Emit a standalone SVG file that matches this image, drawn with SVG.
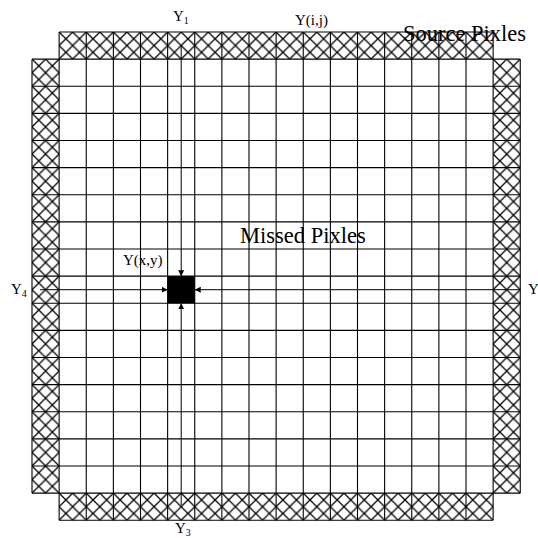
<svg xmlns="http://www.w3.org/2000/svg" width="538" height="538" viewBox="0 0 538 538">
<style>
.grid{fill:none;stroke:#000;stroke-width:1.1}
.hatch{fill:url(#xh);stroke:none}
.conn{fill:none;stroke:#000;stroke-width:1}
.lbl{font-family:"Liberation Serif","Times New Roman",serif;font-size:15px;fill:#000}
.big{font-family:"Liberation Serif","Times New Roman",serif;font-size:22.5px;fill:#000}
.sub{font-size:10px}
</style>
<defs>
<pattern id="xh" patternUnits="userSpaceOnUse" x="32" y="32" width="13.5625" height="13.5625">
<path d="M0 0L13.5625 13.5625M13.5625 0L0 13.5625" stroke="#000" stroke-width="1.3" fill="none"/>
</pattern>
<marker id="ah" markerUnits="userSpaceOnUse" markerWidth="8" markerHeight="8" refX="6" refY="3" orient="auto">
<path d="M0 0L6 3L0 6Z" fill="#000"/>
</marker>
</defs>
<rect width="538" height="538" fill="#fff"/>
<g id="source-pixels">
<rect class="hatch" x="59.125" y="32" width="434" height="27.125"/>
<rect class="hatch" x="59.125" y="493.125" width="434" height="27.125"/>
<rect class="hatch" x="32" y="59.125" width="27.125" height="434"/>
<rect class="hatch" x="493.125" y="59.125" width="27.125" height="434"/>
</g>
<g id="grid">
<path class="grid" d="M59.125 32V520.25M86.25 32V520.25M113.375 32V520.25M140.5 32V520.25M167.625 32V520.25M194.75 32V520.25M221.875 32V520.25M249 32V520.25M276.125 32V520.25M303.25 32V520.25M330.375 32V520.25M357.5 32V520.25M384.625 32V520.25M411.75 32V520.25M438.875 32V520.25M466 32V520.25M493.125 32V520.25"/>
<path class="grid" d="M32 59.125H520.25M32 86.25H520.25M32 113.375H520.25M32 140.5H520.25M32 167.625H520.25M32 194.75H520.25M32 221.875H520.25M32 249H520.25M32 276.125H520.25M32 303.25H520.25M32 330.375H520.25M32 357.5H520.25M32 384.625H520.25M32 411.75H520.25M32 438.875H520.25M32 466H520.25M32 493.125H520.25"/>
<path class="grid" d="M59.125 32H493.125M59.125 520.25H493.125M32 59.125V493.125M520.25 59.125V493.125"/>
</g>
<g id="missed-pixel">
<rect x="167.625" y="276.125" width="27.125" height="27.125" fill="#000"/>
</g>
<g id="connectors">
<line class="conn" x1="181.19" y1="46" x2="181.19" y2="276.125" marker-end="url(#ah)"/>
<line class="conn" x1="181.19" y1="505" x2="181.19" y2="303.25" marker-end="url(#ah)"/>
<line class="conn" x1="40" y1="289.69" x2="167.625" y2="289.69" marker-end="url(#ah)"/>
<line class="conn" x1="520.25" y1="289.69" x2="194.75" y2="289.69" marker-end="url(#ah)"/>
</g>
<g id="labels">
<text class="lbl" x="173" y="21">Y<tspan class="sub" dy="3">1</tspan></text>
<text class="lbl" x="295" y="25">Y(i,j)</text>
<text class="big" x="403" y="41">Source Pixles</text>
<text class="big" x="240" y="243">Missed Pixles</text>
<text class="lbl" x="123" y="265">Y(x,y)</text>
<text class="lbl" x="11" y="294">Y<tspan class="sub" dy="3">4</tspan></text>
<text class="lbl" x="528" y="294">Y</text>
<text class="lbl" x="175" y="533">Y<tspan class="sub" dy="3">3</tspan></text>
</g>
</svg>
